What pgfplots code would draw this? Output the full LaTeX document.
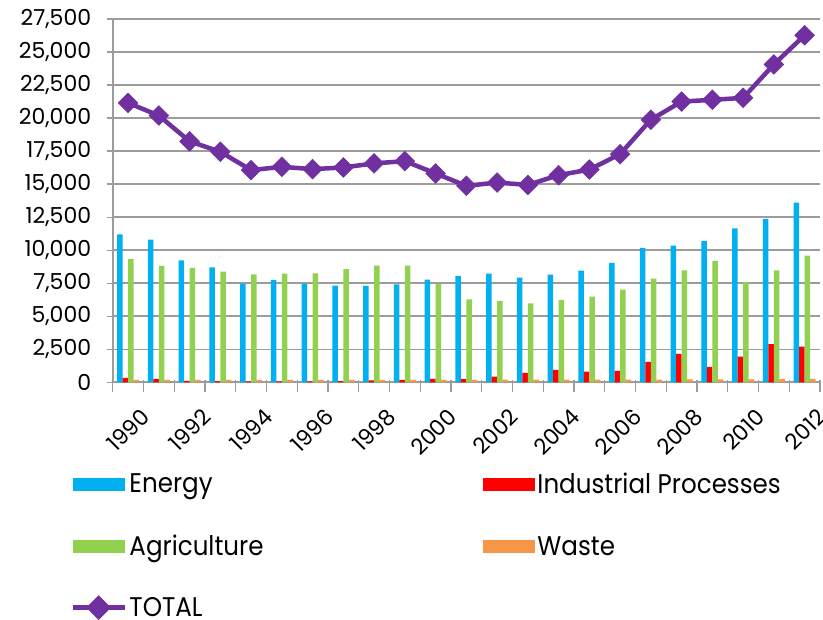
\documentclass[border=0pt]{standalone}
\usepackage{pgfplots}
\pgfplotsset{compat=1.18}
\usepackage{fontspec}
\setmainfont{Poppins}
\newfontfamily\legfont[FakeStretch=0.91]{Poppins}

\definecolor{cEnergy}{HTML}{00B0F0}
\definecolor{cIndustry}{HTML}{FF0000}
\definecolor{cAgri}{HTML}{92D050}
\definecolor{cWaste}{HTML}{F79646}
\definecolor{cTotal}{HTML}{7030A0}
\definecolor{cGrid}{HTML}{9C9C9C}

% Emissions by sector, 1990--2012 (index 0 = 1990)
\pgfplotstableread{
idx energy industry agri waste total
0  11200  330 9350 180 21150
1  10800  250 8820 180 20190
2   9220  100 8660 180 18240
3   8690   80 8380 180 17450
4   7470   70 8160 180 16060
5   7750   70 8230 180 16310
6   7470   70 8250 180 16135
7   7320   80 8560 180 16260
8   7300  150 8840 190 16570
9   7420  175 8840 190 16740
10  7780  250 7450 190 15810
11  8030  250 6280 190 14870
12  8230  425 6160 200 15120
13  7930  710 5970 200 14940
14  8150  935 6230 200 15680
15  8460  810 6480 200 16100
16  9040  860 7010 210 17270
17 10180 1540 7850 210 19880
18 10340 2150 8480 220 21250
19 10690 1160 9200 220 21380
20 11650 1950 7600 230 21530
21 12360 2890 8480 240 24060
22 13600 2700 9580 250 26270
}\emissions

\begin{document}
\begin{tikzpicture}
\path[use as bounding box] (0,0) rectangle (823bp,620bp);
\begin{axis}[
  at={(112.7bp,237.7bp)}, anchor=south west,
  scale only axis, width=707.3bp, height=363.3bp,
  xmin=-0.5, xmax=22.5, ymin=0, ymax=27500,
  axis lines*=left,
  axis line style={draw=cGrid, line width=1.6bp},
  ymajorgrids, grid style={draw=cGrid, line width=1.5bp},
  ytick={0,2500,...,27500},
  scaled y ticks=false,
  tick align=center,
  major tick length=12bp,
  tick style={draw=cGrid, line width=1.3bp},
  xtick={-0.5,0.5,...,22.5},
  xticklabels={},
  xtick style={yshift=-4bp},
  extra x ticks={0,2,...,22},
  extra x tick labels={1990,1992,1994,1996,1998,2000,2002,2004,2006,2008,2010,2012},
  extra x tick style={grid=none, major tick length=0pt, tick style={draw=none}},
  /pgf/number format/.cd, 1000 sep={,}, assume math mode=true, /pgfplots/.cd,
  yticklabel style={font=\fontsize{22bp}{26bp}\selectfont, xshift=-12bp},
  xticklabel style={font=\fontsize{22bp}{26bp}\selectfont, rotate=45, anchor=north east, xshift=-6bp, yshift=-22bp},
  legend columns=2,
  legend cell align=left,
  legend style={at={(axis description cs:-0.06,-0.243)}, anchor=north west,
    draw=none, fill=none, inner sep=0pt, row sep=35bp,
    font=\legfont\fontsize{27bp}{31bp}\selectfont,
    nodes={inner sep=2.5bp}},
]
\addplot[ybar, bar width=5.5bp, bar shift=-8.25bp, fill=cEnergy, draw=none,
  legend image code/.code={\fill[cEnergy] (0bp,-6.5bp) rectangle (52bp,6.5bp);}]
  table[x=idx, y=energy] {\emissions};
\addlegendentry{\makebox[351bp][l]{Energy}}
\addplot[ybar, bar width=5.5bp, bar shift=-2.75bp, fill=cIndustry, draw=none,
  legend image code/.code={\fill[cIndustry] (0bp,-6.5bp) rectangle (52bp,6.5bp);}]
  table[x=idx, y=industry] {\emissions};
\addlegendentry{Industrial Processes}
\addplot[ybar, bar width=5.5bp, bar shift=2.75bp, fill=cAgri, draw=none,
  legend image code/.code={\fill[cAgri] (0bp,-6.5bp) rectangle (52bp,6.5bp);}]
  table[x=idx, y=agri] {\emissions};
\addlegendentry{\makebox[351bp][l]{Agriculture}}
\addplot[ybar, bar width=5.5bp, bar shift=8.25bp, fill=cWaste, draw=none,
  legend image code/.code={\fill[cWaste] (0bp,-6.5bp) rectangle (52bp,6.5bp);}]
  table[x=idx, y=waste] {\emissions};
\addlegendentry{Waste}
\addplot[cTotal, line width=4.5bp, mark=square*, mark size=7bp,
  mark options={rotate=45, line width=0.5bp, fill=cTotal},
  legend image code/.code={\draw[cTotal, line width=4.5bp] (0bp,0bp) -- (52bp,0bp);
    \fill[cTotal, rotate around={45:(26bp,0bp)}] (19.5bp,-6.5bp) rectangle (32.5bp,6.5bp);}]
  table[x=idx, y=total] {\emissions};
\addlegendentry{TOTAL}
\end{axis}
\end{tikzpicture}
\end{document}
